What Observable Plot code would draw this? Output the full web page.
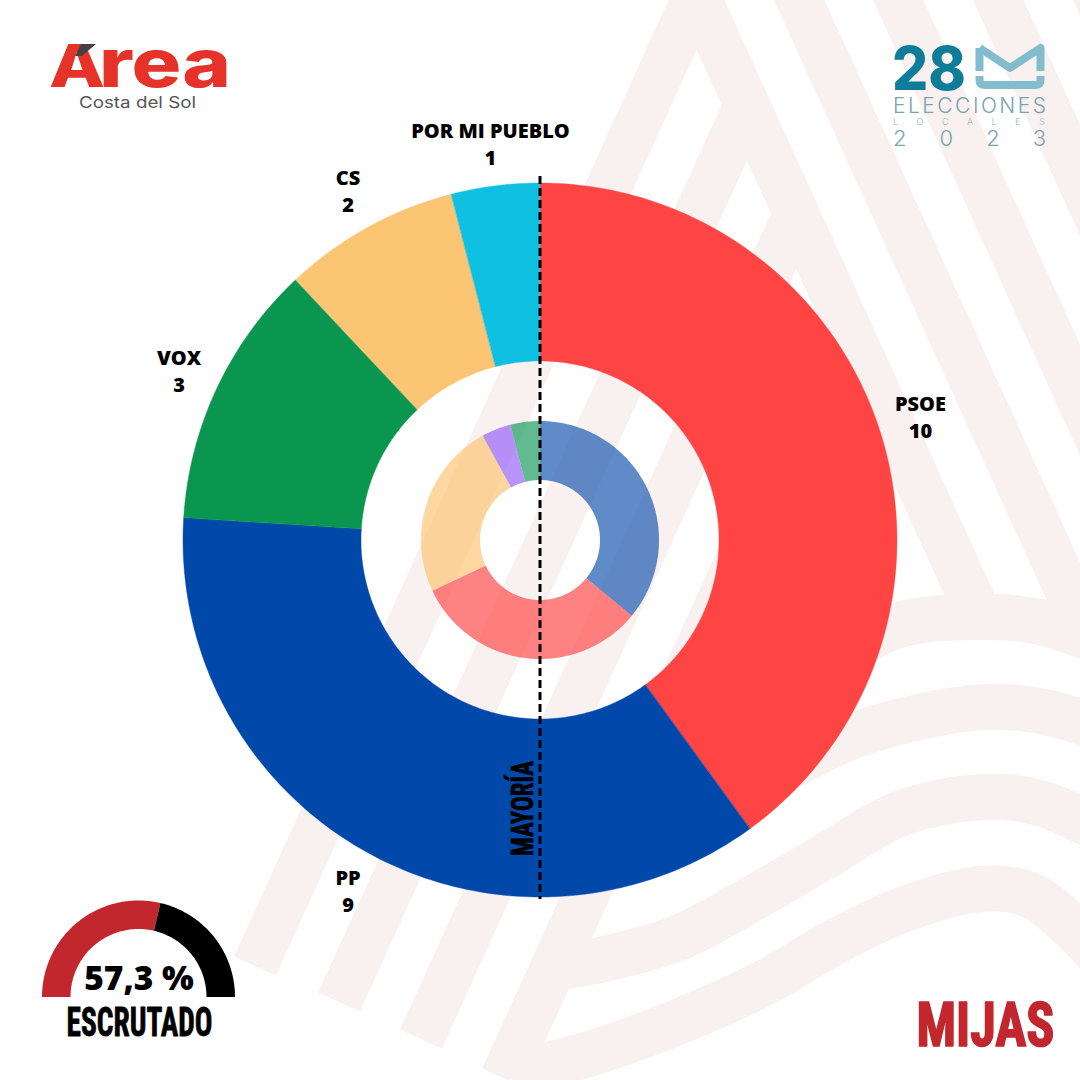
<!DOCTYPE html>
<html><head><meta charset="utf-8">
<script src="https://cdn.jsdelivr.net/npm/d3@7"></script>
<script src="https://cdn.jsdelivr.net/npm/@observablehq/plot@0.6"></script>
<style>
html,body{margin:0;padding:0;background:#fff}
#page{position:relative;width:1080px;height:1080px;overflow:hidden}
#page>svg{position:absolute;left:0;top:0}
</style></head><body><div id="page">
<svg id="deco" width="1080" height="1080" viewBox="0 0 1080 1080"></svg>
</div>
<script>
// ---- chart values ----
const seatParties = ["PSOE","PP","VOX","CS","POR MI PUEBLO"];
const seats2023   = [10,9,3,2,1];
const seatColors  = ["#ff4444","#0048aa","#0a964e","#fcc574","#0fc0e3"];
const prevParties = ["PP previo","PSOE previo","CS previo","Otros previo","VOX previo"];
const prevSeats   = [9,8,6,1,1];
const prevColors  = ["#1454b0","#ff4747","#fdc373","#9660f9","#18995c"];
const scrutinyParts  = ["Escrutado","Pendiente"];
const scrutinyValues = [57.3,42.7];
const scrutinyColors = ["#c1272d","#000000"];
const scrutinyLabel = "57,3 %";

// ---- decorative background (brand artwork, not chart data) ----
const pink = "#f9f1ef";
const leftStripes = [[[255,966],[712,-40]],[[339,1002],[747,105]],[[421,1039],[796,214]],[[503,1078],[846,323]]];
const rightStripes = [[[681,-40],[981,620]],[[781,-40],[1081,620]],[[880,-40],[1180,620]],[[980,-40],[1280,620]],[[1080,-40],[1380,620]]];
const bands = [
 [[780,700],[890,628],[985,617],[1040,622],[1120,650]],
 [[690,800],[781,770],[850,737],[919,717],[985,707],[1040,711],[1120,735]],
 [[556,968],[609,958],[678,938],[755,897],[824,857],[902,813],[985,797],[1040,803],[1120,840]],
 [[520,1072],[592,1053],[678,1022],[764,983],[833,943],[902,910],[981,889],[1030,895],[1080,935],[1120,980]]
];
const deco = d3.select("#deco");
const seg = d3.line();
const bgl = deco.append("g").attr("fill","none").attr("stroke",pink).attr("stroke-width",46);
[...leftStripes,...rightStripes].forEach(s=>bgl.append("path").attr("d",seg(s)));
const curvy = d3.line().curve(d3.curveCatmullRom.alpha(0.5));
bands.forEach(s=>bgl.append("path").attr("d",curvy(s)));
const t = (txt,x,y,attrs)=>{const e=deco.append("text").attr("x",x).attr("y",y).text(txt);Object.entries(attrs).forEach(([k,v])=>e.attr(k,v));return e;};
// Area logo: one text element, capital and lower-case sized apart
const area = deco.append("text").attr("y",87).attr("font-family","Inter").attr("font-weight",800).attr("fill","#e6332a");
area.append("tspan").attr("x",49).attr("font-size",59).attr("textLength",56).attr("lengthAdjust","spacingAndGlyphs").text("A");
area.append("tspan").attr("x",99).attr("font-size",67).attr("textLength",132).attr("lengthAdjust","spacingAndGlyphs").text("rea");
deco.append("path").attr("d","M81 44H96L82 56H75Z").attr("fill","#46403f");
t("Costa del Sol",79,108,{"font-family":"Inter","font-weight":400,"font-size":16,fill:"#555",textLength:117,lengthAdjust:"spacingAndGlyphs"});
// 28 Elecciones logo
t("28",892,90,{"font-family":"Inter","font-weight":800,"font-size":61,fill:"#0f7d99",textLength:74,lengthAdjust:"spacingAndGlyphs"});
deco.append("path").attr("d","M979.5 48 L1010 68 L1040.5 48 V71 M979.5 48 V71 M979.5 76 V80 Q979.5 85 985 85 H1035 Q1040.5 85 1040.5 80 V76")
  .attr("fill","none").attr("stroke","#83bdcd").attr("stroke-width",8).attr("stroke-linejoin","round");
t("ELECCIONES",893,113,{"font-family":"Inter","font-weight":300,"font-size":21,fill:"#7aa3b0",textLength:153,lengthAdjust:"spacing"});
t("LOCALES",893,125,{"font-family":"Inter","font-weight":300,"font-size":9,fill:"#9ab3bb",textLength:152,lengthAdjust:"spacing"});
t("2023",893,146,{"font-family":"Inter","font-weight":300,"font-size":22,fill:"#7aa3b0",textLength:153,lengthAdjust:"spacing"});

// ---- helpers: values -> ring rows in the Plot coordinate system ----
function ring(names, values, cx, cy, r0, r1, startDeg, sweepDeg){
  const total = d3.sum(values); let acc = startDeg; const rows = [];
  names.forEach((name,i)=>{
    const span = values[i]/total*sweepDeg, n = Math.max(2,Math.ceil(span));
    for(let k=0;k<=n;k++){
      const a = (acc+span*k/n)*Math.PI/180;
      rows.push({name,x1:cx+r1*Math.sin(a),y1:cy-r1*Math.cos(a),x2:cx+r0*Math.sin(a),y2:cy-r0*Math.cos(a)});
    }
    acc += span;
  });
  return rows;
}
function labels(names, values, cx, cy, r){
  const total = d3.sum(values); let acc = 0;
  return names.map((name,i)=>{const span=values[i]/total*360, a=(acc+span/2)*Math.PI/180; acc+=span;
    return {text:name+"\n"+values[i],x:cx+r*Math.sin(a),y:cy-r*Math.cos(a)};});
}
const cx=540, cy=540;
const outerRows = ring(seatParties,seats2023,cx,cy,179,357,0,360);
const innerRows = ring(prevParties,prevSeats,cx,cy,60,119,0,360);
const gaugeRows = ring(scrutinyParts,scrutinyValues,138.5,997,68,96.5,-90,180);

const cond = "'Liberation Sans Narrow','Roboto Condensed',sans-serif";
const chart = Plot.plot({
  width:1080,height:1080,margin:0,
  x:{domain:[0,1080],range:[0,1080],axis:null},
  y:{domain:[0,1080],range:[0,1080],axis:null},
  color:{domain:[...seatParties,...prevParties,...scrutinyParts],range:[...seatColors,...prevColors,...scrutinyColors]},
  style:{background:"transparent"},
  marks:[
    Plot.area(outerRows,{x1:"x1",y1:"y1",x2:"x2",y2:"y2",z:"name",fill:"name",stroke:"name",strokeWidth:0.4}),
    Plot.area(innerRows,{x1:"x1",y1:"y1",x2:"x2",y2:"y2",z:"name",fill:"name",fillOpacity:0.68}),
    Plot.area(gaugeRows,{x1:"x1",y1:"y1",x2:"x2",y2:"y2",z:"name",fill:"name"}),
    Plot.ruleX([cx-0.5],{y1:176,y2:899,stroke:"#000",strokeWidth:3,strokeDasharray:"8,4"}),
    Plot.text(labels(seatParties,seats2023,cx,cy-1,399.5),{x:"x",y:"y",text:"text",fontFamily:"'Open Sans'",fontWeight:800,fontSize:20,lineHeight:1.35,fill:"#000"}),
    Plot.text(["MAYORÍA"],{x:[523],y:[808],text:d=>d,rotate:-90,fontFamily:cond,fontWeight:700,fontSize:31,fill:"#000",stroke:"#000",strokeWidth:0.7,className:"fit-95"}),
    Plot.text([scrutinyLabel],{x:[138.5],y:[979],text:d=>d,fontFamily:"'Open Sans'",fontWeight:800,fontSize:33.5,fill:"#000"}),
    Plot.text(["ESCRUTADO"],{x:[139],y:[1023],text:d=>d,fontFamily:cond,fontWeight:700,fontSize:40,fill:"#000",stroke:"#000",strokeWidth:0.8,className:"fit-146"}),
    Plot.text(["MIJAS"],{x:[1054],y:[1026],text:d=>d,textAnchor:"end",fontFamily:cond,fontWeight:700,fontSize:62,fill:"#c1272d",stroke:"#c1272d",strokeWidth:1.6,className:"fit-138"})
  ]
});
document.getElementById("page").appendChild(chart);
[["fit-95",95],["fit-146",146],["fit-138",138]].forEach(([c,l])=>{
  chart.querySelectorAll("."+c+" text").forEach(e=>{e.setAttribute("textLength",l);e.setAttribute("lengthAdjust","spacingAndGlyphs");});
});
</script></body></html>
